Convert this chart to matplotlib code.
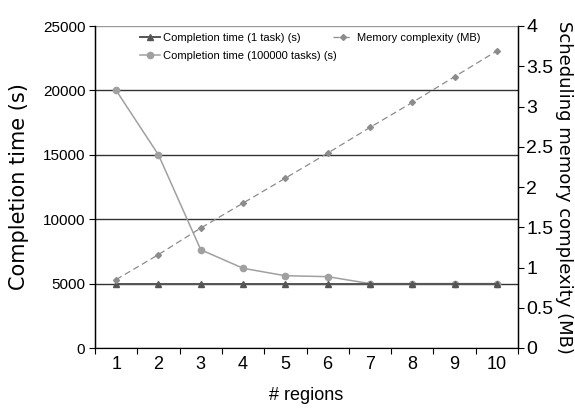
import matplotlib
matplotlib.use("Agg")
import matplotlib.pyplot as plt
import numpy as np

# data
regions = [1, 2, 3, 4, 5, 6, 7, 8, 9, 10]
time_1_task = [5000, 5000, 5000, 5000, 5000, 5000, 5000, 5000, 5000, 5000]
time_100000_tasks = [20000, 15000, 7630, 6190, 5610, 5540, 5000, 5000, 5000, 5000]
memory_mb = [0.85, 1.16, 1.49, 1.80, 2.11, 2.42, 2.74, 3.05, 3.37, 3.69]

tick_font = "Liberation Sans"
label_font = "DejaVu Sans"

fig = plt.figure(figsize=(5.75, 4.17), dpi=100)
ax = fig.add_axes([95 / 575, 1 - 348 / 417, (518 - 95) / 575, (348 - 26) / 417])
ax2 = ax.twinx()

ax.plot(regions, time_1_task, color="#555555", lw=1.4, marker="^", ms=5,
        label="Completion time (1 task) (s)", zorder=4)
ax.plot(regions, time_100000_tasks, color="#a0a0a0", lw=1.1, marker="o", ms=4.5,
        label="Completion time (100000 tasks) (s)", zorder=3)
ax2.plot(regions, memory_mb, color="#8c8c8c", lw=0.9, ls=(0, (5, 3)), marker="D", ms=3,
         label="Memory complexity (MB)")

ax.set_xlim(0.5, 10.5)
ax.set_ylim(0, 25000)
ax2.set_ylim(0, 4)

# category axis: ticks at the boundaries, labels in the middle
ax.set_xticks(np.arange(0.5, 11, 1))
ax.set_xticklabels([])
ax.set_xticks(regions, minor=True)
ax.set_xticklabels([str(r) for r in regions], minor=True, fontsize=13, family=tick_font)
ax.tick_params(axis="x", which="minor", length=0, pad=6)
ax.tick_params(axis="x", which="major", length=4, direction="out", color="black")

ax.set_yticks(np.arange(0, 25001, 5000))
ax.set_yticklabels([str(v) for v in range(0, 25001, 5000)], fontsize=11, family=tick_font)
ax.tick_params(axis="y", length=4, direction="out", pad=3)

ax2.set_yticks(np.arange(0, 4.01, 0.5))
ax2.set_yticklabels(["0", "0.5", "1", "1.5", "2", "2.5", "3", "3.5", "4"],
                    fontsize=14, family=tick_font)
ax2.tick_params(axis="y", length=4, direction="out", pad=2)

ax.yaxis.grid(True, color="#333333", lw=1.0)
ax.get_ygridlines()[-1].set_color("#999999")
ax.set_axisbelow(True)
for s in ["top"]:
    ax.spines[s].set_visible(False)
    ax2.spines[s].set_visible(False)
ax.spines["left"].set_linewidth(1.0)
ax2.spines["right"].set_linewidth(1.0)
ax.spines["bottom"].set_color("#333333")

ax.set_ylabel("Completion time (s)", fontsize=15, family=label_font, labelpad=10)
ax2.set_ylabel("Scheduling memory complexity (MB)", fontsize=13, family=label_font,
               rotation=270, labelpad=14)
ax.set_xlabel("# regions", fontsize=13, family=tick_font, labelpad=10)

h1, l1 = ax.get_legend_handles_labels()
h2, l2 = ax2.get_legend_handles_labels()
leg = ax.legend(h1 + h2, l1 + l2, ncol=2, loc="upper left", bbox_to_anchor=(0.09, 1.0),
                frameon=False, prop={"family": tick_font, "size": 8},
                handlelength=1.8, handletextpad=0.3, columnspacing=-0.3,
                labelspacing=0.75, borderaxespad=0.2)

fig.savefig("out.png", dpi=100)
